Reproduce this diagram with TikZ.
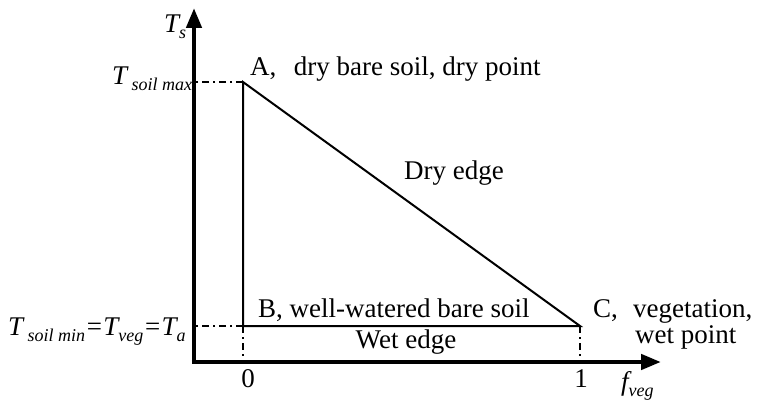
\documentclass[tikz,border=0pt]{standalone}
\usepackage{fontspec}
\setmainfont{Liberation Serif}
\usetikzlibrary{arrows.meta,calc}
\newcommand{\lowidx}[1]{\raisebox{-6pt}{\fontsize{18}{20}\selectfont\itshape #1}}
\tikzset{
  axisline/.style={line width=4.5pt,-{Triangle[width=15pt,length=20pt]}},
  edgeline/.style={line width=2pt},
  guide/.style={line width=2pt,dash pattern=on 7pt off 4pt on 2pt off 4pt},
  lbl/.style={inner sep=0pt,font=\fontsize{27}{30}\selectfont},
}
\begin{document}
\begin{tikzpicture}[x=1pt,y=-1pt]
\useasboundingbox (0,0) rectangle (761,409);
% coordinates
\coordinate (O) at (194,362);
\coordinate (Ytip) at (194,8);
\coordinate (Xtip) at (661,362);
\coordinate (A) at (243,82);
\coordinate (B) at (243,326);
\coordinate (C) at (580,326);
\coordinate (Ay) at (196,82);
\coordinate (By) at (196,326);
\coordinate (Bx) at (243,360);
\coordinate (Cx) at (580,360);
% axes
\draw[axisline] (O) -- (Ytip);
\draw[axisline] ($(O)+(-2.25,0)$) -- (Xtip);
% triangle
\draw[edgeline] (B) -- (A) -- (C) -- cycle;
% guides
\draw[guide] (A) -- (Ay);
\draw[guide] (B) -- (By);
\draw[guide] (B) -- (Bx);
\draw[guide] (C) -- (Cx);
% labels
\node[lbl,anchor=base west] (ts) at (164,33) {\itshape T\lowidx{s}};
\node[lbl,anchor=base west] (tmax) at (112,85) {\itshape T\,\lowidx{soil max}};
\node[lbl,anchor=base west] (tmin) at (8,335) {\itshape T\,\lowidx{soil min}=T\lowidx{veg}=T\lowidx{a}};
\node[lbl,anchor=base west] (la) at (250,76) {A,\hspace{0.65em}dry bare soil, dry point};
\node[lbl,anchor=base west] (dry) at (404,180) {Dry edge};
\node[lbl,anchor=base west] (lb) at (258,317) {B, well-watered bare soil};
\node[lbl,anchor=base] (wet) at (406,348) {Wet edge};
\node[lbl,anchor=base west] (lc) at (593,317) {C,};
\node[lbl,anchor=base west] (veg) at (633,317) {vegetation,};
\node[lbl,anchor=base west] (wp) at (635,343) {wet point};
\node[lbl,anchor=base] (zero) at (248,387) {0};
\node[lbl,anchor=base] (one) at (581,387) {1};
\node[lbl,anchor=base west] (fveg) at (621,390) {\itshape f\lowidx{veg}};
\end{tikzpicture}
\end{document}
